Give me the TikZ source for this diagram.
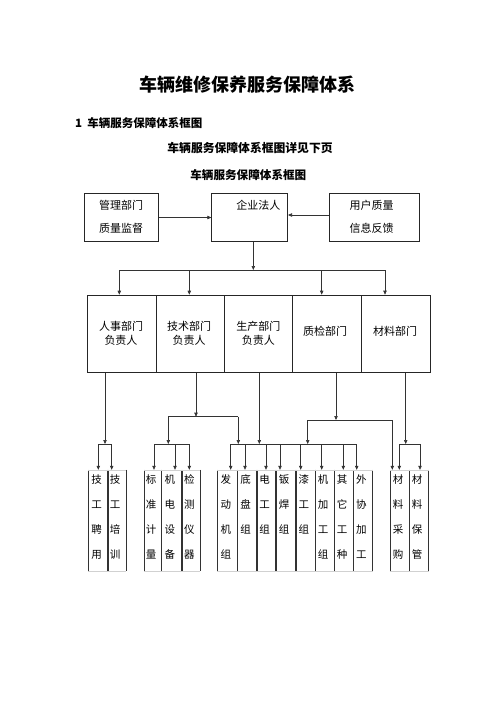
\documentclass[tikz,border=0pt]{standalone}
\usepackage{fontspec}
\setmainfont{Noto Sans CJK SC}
\usetikzlibrary{arrows.meta,calc}
\begin{document}
\begin{tikzpicture}[x=1pt,y=-1pt,
  ln/.style={draw=black!80,line width=0.6pt},
  arr/.style={ln,-{Triangle[length=4pt,width=3.4pt]}},
  box/.style={draw=black!85,line width=0.6pt,inner sep=0pt},
  txt/.style={inner sep=0pt,font=\fontsize{11}{13.3}\selectfont,align=center},
  col/.style={draw=none,inner sep=0pt,minimum height=101pt},
  coltxt/.style={inner sep=0pt,font=\fontsize{10.5}{25}\selectfont,align=center},
  vline/.style={draw=black!80,line width=0.6pt},
  faint/.style={draw=black!18,line width=0.5pt},
  ttl/.style={inner sep=0pt,font=\bfseries}
]
\useasboundingbox (0,0) rectangle (496,702);
\fill[white] (0,0) rectangle (496,702);

% titles
\node[ttl,font=\fontsize{18}{20}\selectfont\bfseries] (title) at (247,85) {车辆维修保养服务保障体系};
\node[ttl,font=\fontsize{11.5}{13}\selectfont\bfseries,anchor=west] (sec) at (75,123.3) {1\ \ 车辆服务保障体系框图};
\node[ttl,font=\fontsize{11.8}{13}\selectfont\bfseries] (sub1) at (250,148.3) {车辆服务保障体系框图详见下页};
\node[ttl,font=\fontsize{11.6}{13}\selectfont\bfseries] (sub2) at (248.3,175) {车辆服务保障体系框图};

% top boxes
\node[box,minimum width=74pt,minimum height=48.4pt] (mgmt) at (121.3,217.5) {};
\node[box,minimum width=76pt,minimum height=48.4pt] (ceo) at (249.7,217.5) {};
\node[box,minimum width=90pt,minimum height=48.4pt] (user) at (374.3,217.5) {};
\node[txt,font=\fontsize{11}{23.3}\selectfont] (mgmtt) at (121,216.7) {管理部门\\质量监督};
\node[txt] (ceot) at (258.3,205) {企业法人};
\node[txt,font=\fontsize{11}{23.3}\selectfont] (usert) at (371.7,216.7) {用户质量\\信息反馈};
\draw[arr] (mgmt.east) -- (ceo.west);
\draw[arr] ($(user.west)+(0,-2.5)$) -- ($(user.west -| ceo.east)+(0,-2.5)$);

% middle boxes
\node[box,minimum width=69.4pt,minimum height=77.7pt] (m1) at (122,333.85) {};
\node[box,minimum width=67.6pt,minimum height=77.7pt] (m2) at (190.5,333.85) {};
\node[box,minimum width=68.4pt,minimum height=77.7pt] (m3) at (258.5,333.85) {};
\node[box,minimum width=69pt,minimum height=77.7pt] (m4) at (327.2,333.85) {};
\node[box,minimum width=69pt,minimum height=77.7pt] (m5) at (396.2,333.85) {};
\node[txt] (m1t) at (121,333.3) {人事部门\\负责人};
\node[txt] (m2t) at (189,333.3) {技术部门\\负责人};
\node[txt] (m3t) at (258.3,333.3) {生产部门\\负责人};
\node[txt] (m4t) at (325,331.7) {质检部门};
\node[txt] (m5t) at (395,331.7) {材料部门};

% bus from CEO
\coordinate (bC) at (253.3,270);
\coordinate (bL) at (119.3,270);
\coordinate (b2) at (189.3,270);
\coordinate (b4) at (321.7,270);
\coordinate (bR) at (385,270);
\draw[arr] (ceo.south -| bC) -- (bC);
\draw[ln] (bL) -- (bR);
\draw[arr] (bL) -- (bL |- m1.north);
\draw[arr] (b2) -- (b2 |- m2.north);
\draw[arr] (b4) -- (b4 |- m4.north);
\draw[arr] (bR) -- (bR |- m5.north);

% bottom columns
\foreach \n/\l/\r/\t in {
  c1/88.3/107.7/{技\\工\\聘\\用},
  c2/107.7/125.7/{技\\工\\培\\训},
  c3/144/161/{标\\准\\计\\量},
  c4/161/181.7/{机\\电\\设\\备},
  c5/181.7/200/{检\\测\\仪\\器},
  c6/217.3/237.3/{发\\动\\机\\组},
  c7/237.3/256.7/{底\\盘\\组},
  c8/256.7/275.7/{电\\工\\组},
  c9/275.7/295.7/{钣\\焊\\组},
  c10/295.7/315/{漆\\工\\组},
  c11/315/334/{机\\加\\工\\组},
  c12/334/353.3/{其\\它\\工\\种},
  c13/353.3/372.3/{外\\协\\加\\工},
  c14/390/409/{材\\料\\采\\购},
  c15/409/428.3/{材\\料\\保\\管}}{
  \node[col,minimum width={\r-\l}] (\n) at ({(\l+\r)/2},520.5) {};
  \node[coltxt,anchor=north] (\n-t) at ($(\n.north)+(-1.5,5)$) {\t};
  \draw[vline] (\n.north west) -- (\n.south west);
  \draw[vline] (\n.north east) -- (\n.south east);
}
\foreach \a/\b in {c1/c2,c3/c5,c6/c13,c14/c15}{
  \draw[faint] (\a.north west) -- (\b.north east);
  \draw[faint] (\a.south west) -- (\b.south east);
}

% 人事 -> group 1
\coordinate (h1) at (105,444);
\coordinate (h1a) at (98.3,444);
\coordinate (h1b) at (111.7,444);
\draw[arr] (m1.south -| h1) -- (h1);
\draw[ln] (h1a) -- (h1b);
\draw[arr] (h1a) -- (h1a |- c1.north);
\draw[arr] (h1b) -- (h1b |- c2.north);

% 技术 -> group 2 and production bus
\coordinate (t0) at (196,416.7);
\coordinate (tL) at (168.3,416.7);
\coordinate (tR) at (238.3,416.7);
\draw[arr] (m2.south -| t0) -- (t0);
\draw[ln] (tL) -- (tR);
\coordinate (g2) at (168.3,444);
\coordinate (g2a) at (154,444);
\coordinate (g2b) at (175,444);
\coordinate (g2c) at (189.3,444);
\draw[arr] (tL) -- (g2);
\draw[ln] (g2a) -- (g2c);
\draw[arr] (g2a) -- (g2a |- c3.north);
\draw[arr] (g2b) -- (g2b |- c4.north);
\draw[arr] (g2c) -- (g2c |- c5.north);

% 生产 -> group 3
\coordinate (p0) at (259.3,444);
\coordinate (pL) at (230.7,444);
\coordinate (pR) at (356.7,444);
\draw[arr] (tR) -- (tR |- pL);
\draw[arr] (m3.south -| p0) -- (p0);
\draw[ln] (pL) -- (pR);
\foreach \x/\c in {230.7/c6,245/c7,266/c8,280/c9,300.7/c10,321.7/c11,343.3/c12,356.7/c13}{
  \coordinate (p-\c) at (\x,444);
  \draw[arr] (p-\c) -- (p-\c |- \c.north);
}

% 质检
\coordinate (q0) at (336,420);
\coordinate (qL) at (307.7,420);
\coordinate (qR) at (392.3,420);
\draw[arr] (m4.south -| q0) -- (q0);
\draw[ln] (qL) -- (qR);
\draw[arr] (qL) -- (qL |- pL);
\draw[arr] (qR) -- (qR |- c14.north);

% 材料
\coordinate (r0) at (405.7,444);
\coordinate (ra) at (399.3,444);
\coordinate (rb) at (420,444);
\draw[arr] (m5.south -| r0) -- (r0);
\draw[ln] (ra) -- (rb);
\draw[arr] (ra) -- (ra |- c14.north);
\draw[arr] (rb) -- (rb |- c15.north);
\end{tikzpicture}
\end{document}
